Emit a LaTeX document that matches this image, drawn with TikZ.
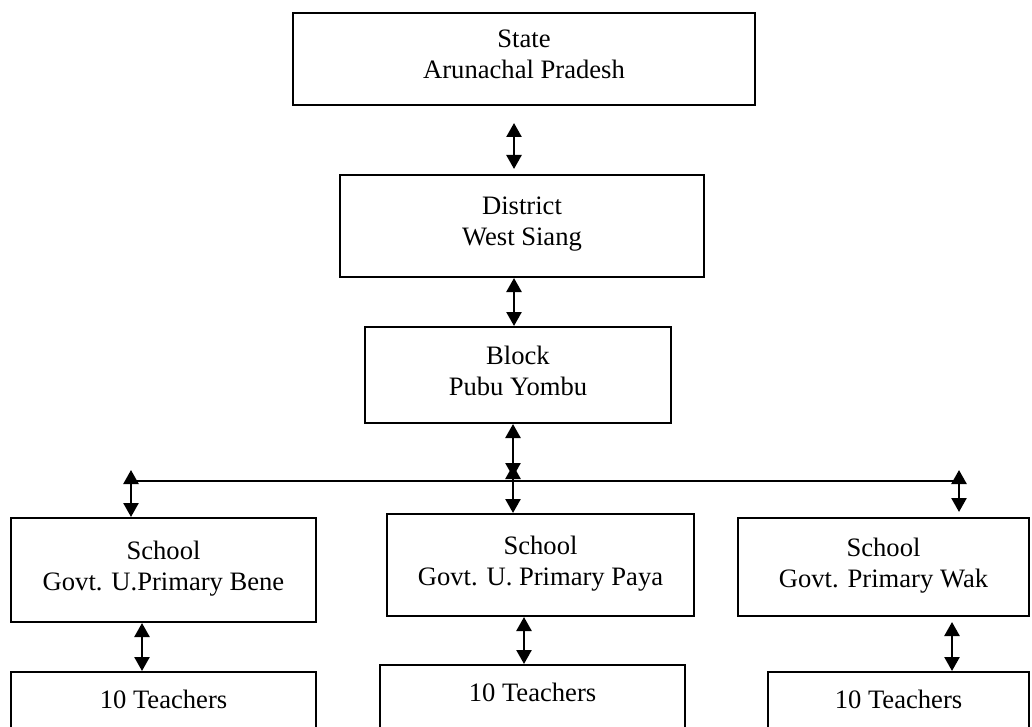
\documentclass[tikz,border=0pt]{standalone}
\usepackage{fontspec}
\setmainfont{Liberation Serif}
\usetikzlibrary{arrows.meta}

\begin{document}
\begin{tikzpicture}[
  x=0.5pt, y=-0.5pt,
  box/.style={draw, line width=1pt, align=center, inner sep=0pt, font=\fontsize{13.3}{15.5}\selectfont},
  level/.style={box, text depth=4.5pt},
  staff/.style={box, anchor=north, text height=18pt, text depth=22pt},
  link/.style={<->, line width=1.25pt},
  bus/.style={line width=1pt},
  >={Triangle[length=7pt,width=7.5pt]}
]
  \useasboundingbox (0,0) rectangle (1032,727);
  \clip (0,0) rectangle (1032,727);
  % levels: state, district, block
  \node[level, minimum width=231pt, minimum height=46pt] (state) at (524,59) {State\\Arunachal Pradesh};
  \node[level, minimum width=182pt, minimum height=51pt] (dist) at (522,226) {District\\West Siang};
  \node[level, minimum width=153pt, minimum height=48pt] (block) at (518,375) {Block\\Pubu Yombu};
  % schools
  \node[level, minimum width=152.5pt, minimum height=52pt] (sch1) at (163.5,570) {School\\Govt. U.Primary Bene};
  \node[level, minimum width=153.5pt, minimum height=51pt] (sch2) at (540.5,565) {School\\Govt. U. Primary Paya};
  \node[level, minimum width=145.5pt, minimum height=49pt] (sch3) at (883.5,567) {School\\Govt. Primary Wak};
  % teachers
  \node[staff, minimum width=152.5pt] (t1) at (163.5,671) {10 Teachers};
  \node[staff, minimum width=152.5pt] (t2) at (532.5,664) {10 Teachers};
  \node[staff, minimum width=130.5pt] (t3) at (898.5,671) {10 Teachers};

  \coordinate (trunk) at (514,0);
  \coordinate (hub) at (513,481);
  \coordinate (hubA) at (513,477);
  \coordinate (hubB) at (513,465);
  \coordinate (busL) at (131,470);
  \coordinate (busR) at (959,470);
  \coordinate (d1) at (142,0);
  \coordinate (d2) at (524,0);
  \coordinate (d3) at (952,0);

  \draw[link, shorten <=8.5pt, shorten >=2.5pt] (state.south -| trunk) -- (dist.north -| trunk);
  \draw[link] (dist.south -| trunk) -- (block.north -| trunk);
  \draw[link] (block.south -| hubA) -- (hubA);
  \draw[bus] (busL |- hub) -- ([xshift=-2pt]busR |- hub);
  \draw[link] (hubB) -- (sch2.north -| hubB);
  \draw[link] (busL) -- (sch1.north -| busL);
  \draw[link, shorten >=2.5pt] (busR) -- (sch3.north -| busR);
  \draw[link] (sch1.south -| d1) -- (t1.north -| d1);
  \draw[link] (sch2.south -| d2) -- (t2.north -| d2);
  \draw[link, shorten <=2.5pt] (sch3.south -| d3) -- (t3.north -| d3);
\end{tikzpicture}
\end{document}
